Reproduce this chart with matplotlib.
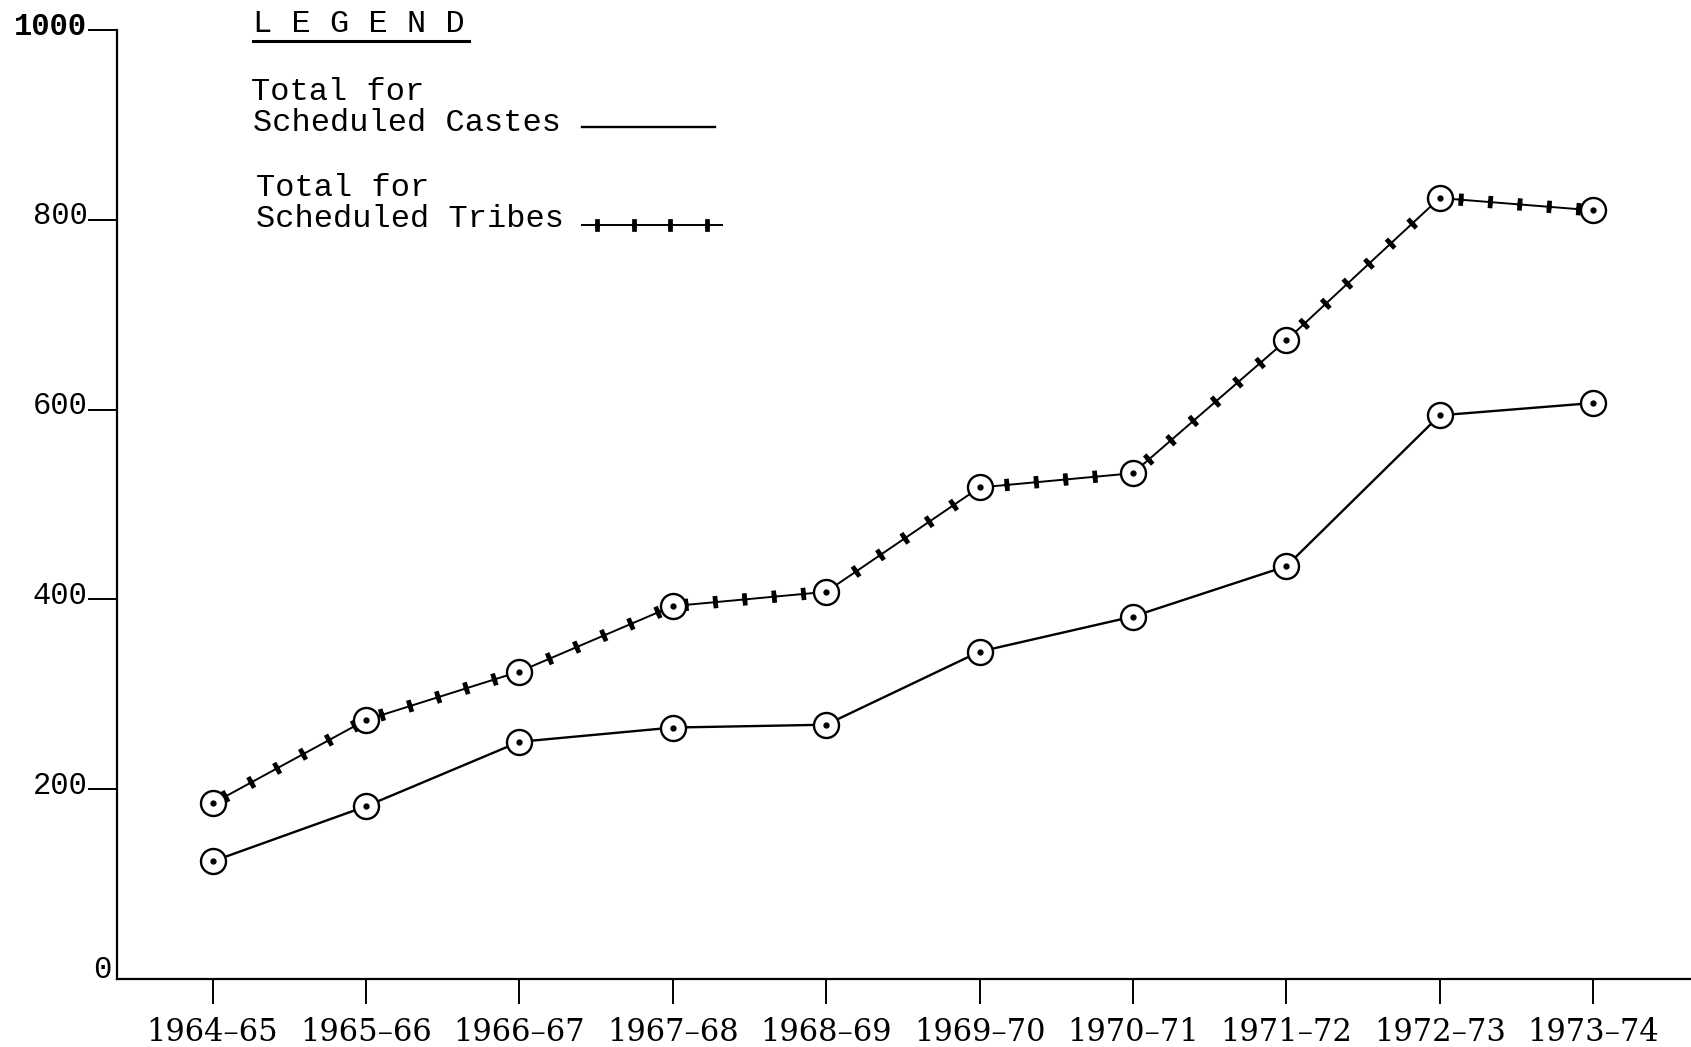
import matplotlib
matplotlib.use("Agg")
import matplotlib.pyplot as plt
import matplotlib.patheffects as pe
from matplotlib.lines import Line2D
from matplotlib.transforms import ScaledTranslation

# Year-wise totals (in units as plotted)
years = ["1964–65", "1965–66", "1966–67", "1967–68", "1968–69",
         "1969–70", "1970–71", "1971–72", "1972–73", "1973–74"]
castes_total = [124, 182, 250, 265, 268, 345, 382, 435, 594, 607]
tribes_total = [185, 273, 324, 393, 408, 518, 533, 673, 823, 810]

y_ticks = [200, 400, 600, 800, 1000]
y_labels = ["200", "400", "600", "800", "1000"]

W, H = 1691, 1047
mono = "Liberation Mono"
serif = "DejaVu Serif"


def fig_xy(x, y):
    # pixel position (from top-left) -> figure fraction
    return x / W, 1 - y / H


fig = plt.figure(figsize=(W / 100, H / 100), dpi=100, facecolor="white")
ax = fig.add_axes([0.0689, 0.0649, 0.9311, 0.9064])

xs = list(range(len(years)))

# crosses along the tribes line
cross = [pe.TickedStroke(spacing=21, angle=90, length=0.13, linewidth=3.4),
         pe.TickedStroke(spacing=21, angle=-90, length=0.13, linewidth=3.4),
         pe.Normal()]

ax.plot(xs, castes_total, color="black", lw=1.7, zorder=2)
ax.plot(xs, tribes_total, color="black", lw=1.4, zorder=2, path_effects=cross)

# ringed points with a dot in the centre
for vals in (castes_total, tribes_total):
    ax.plot(xs, vals, linestyle="none", marker="o", ms=18, mfc="white",
            mec="black", mew=1.7, zorder=3)
    ax.plot(xs, vals, linestyle="none", marker="o", ms=3.5, color="black",
            zorder=4)

# axes
ax.set_xlim(-0.626, 9.638)
ax.set_ylim(0, 1000)
for side in ("top", "right"):
    ax.spines[side].set_visible(False)
for side in ("left", "bottom"):
    ax.spines[side].set_linewidth(1.6)
    ax.spines[side].set_color("black")

ax.set_xticks(xs)
ax.set_xticklabels(years, fontsize=22, family=serif)
ax.tick_params(axis="x", direction="out", length=18, width=1.4, pad=9)

ax.set_yticks(y_ticks)
ax.set_yticklabels(y_labels, fontsize=22, family=mono)
ax.tick_params(axis="y", direction="out", length=21, width=1.4, pad=0)
for lab in ax.get_yticklabels():
    lab.set_transform(lab.get_transform() +
                      ScaledTranslation(0, 5 / 72, fig.dpi_scale_trans))
    if lab.get_text() == "1000":
        lab.set_fontweight("bold")

ax.annotate("0", xy=(0, 0), xycoords=("axes fraction", "data"),
            xytext=(-4, -4), textcoords="offset points", ha="right",
            va="bottom", fontsize=22, family=mono)

# legend block
fig.text(*fig_xy(253, 24), "L E G E N D", fontsize=23, family=mono,
         va="center", ha="left")
fig.add_artist(Line2D([253 / W, 469 / W], [1 - 41 / H, 1 - 41 / H],
                      color="black", lw=2.2))

fig.text(*fig_xy(251, 92), "Total for", fontsize=23, family=mono,
         va="center", ha="left")
fig.text(*fig_xy(253, 123), "Scheduled Castes", fontsize=23, family=mono,
         va="center", ha="left")
fig.add_artist(Line2D([582 / W, 715 / W], [1 - 127 / H, 1 - 127 / H],
                      color="black", lw=1.7))

fig.text(*fig_xy(256, 188), "Total for", fontsize=23, family=mono,
         va="center", ha="left")
fig.text(*fig_xy(256, 219), "Scheduled Tribes", fontsize=23, family=mono,
         va="center", ha="left")
fig.add_artist(Line2D([582 / W, 722 / W], [1 - 225 / H, 1 - 225 / H],
                      color="black", lw=1.4, path_effects=cross))

fig.savefig("out.png", dpi=100, facecolor="white")
